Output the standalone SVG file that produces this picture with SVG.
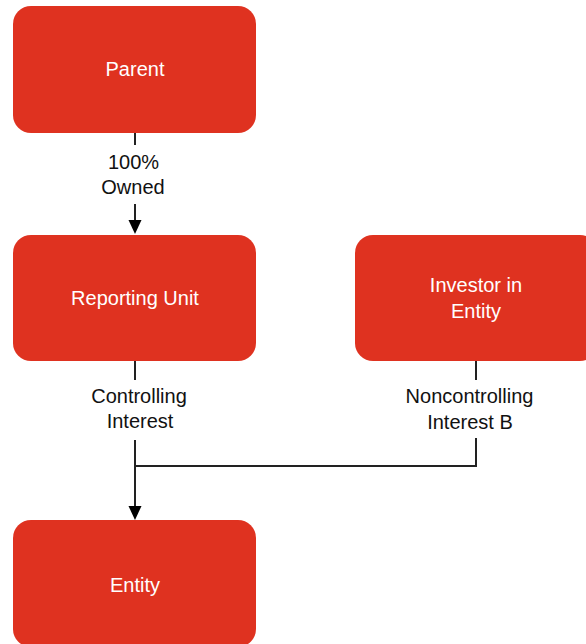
<svg xmlns="http://www.w3.org/2000/svg" width="586" height="644" viewBox="0 0 586 644">
<defs>
<style>
.box{fill:#DF3220;}
.nt{font-family:"Liberation Sans",Arial,sans-serif;font-size:20px;fill:#FFFFFF;text-anchor:middle;}
.lt{font-family:"Liberation Sans",Arial,sans-serif;font-size:20px;fill:#111111;text-anchor:middle;}
.ln{stroke:#222222;stroke-width:2;fill:none;}
.ah{fill:#000000;}
</style>
</defs>
<rect width="586" height="644" fill="#FFFFFF"/>
<g id="connectors">
<line class="ln" x1="135" y1="133" x2="135" y2="145"/>
<path class="ln" d="M135,204 L135,221"/>
<path class="ah" d="M128.5,220 L141.5,220 L135,234 Z"/>
<text class="lt" x="133.5" y="169">100%</text>
<text class="lt" x="133" y="194">Owned</text>
<line class="ln" x1="135" y1="361" x2="135" y2="380"/>
<text class="lt" x="139" y="403">Controlling</text>
<text class="lt" x="140" y="428">Interest</text>
<path class="ln" d="M135,440 L135,507"/>
<path class="ah" d="M128.5,506 L141.5,506 L135,520 Z"/>
<line class="ln" x1="476" y1="361" x2="476" y2="380"/>
<text class="lt" x="469.5" y="403">Noncontrolling</text>
<text class="lt" x="470" y="429">Interest B</text>
<path class="ln" d="M476,438 L476,466 L135,466"/>
</g>
<g id="parent">
<rect class="box" x="13" y="6" width="243" height="127" rx="18" ry="18"/>
<text class="nt" x="135" y="76">Parent</text>
</g>
<g id="reporting-unit">
<rect class="box" x="13" y="235" width="243" height="126" rx="18" ry="18"/>
<text class="nt" x="135" y="305">Reporting Unit</text>
</g>
<g id="investor">
<rect class="box" x="355" y="235" width="243" height="126" rx="18" ry="18"/>
<text class="nt" x="476" y="292">Investor in</text>
<text class="nt" x="476" y="318">Entity</text>
</g>
<g id="entity">
<rect class="box" x="13" y="520" width="243" height="127" rx="18" ry="18"/>
<text class="nt" x="135" y="592">Entity</text>
</g>
</svg>
